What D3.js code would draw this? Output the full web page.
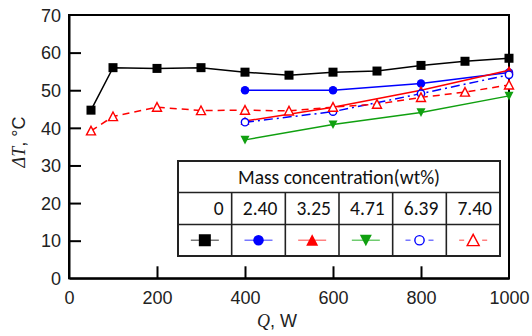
<!DOCTYPE html>
<html><head><meta charset="utf-8">
<script src="https://cdn.jsdelivr.net/npm/d3@7"></script>
<style>body{margin:0;background:#fff}svg{display:block}</style>
</head><body>
<script>
const xTicks=[0,200,400,600,800,1000];
const yTicks=[0,10,20,30,40,50,60,70];
const qFull=[50,100,200,300,400,500,600,700,800,900,1000];
const qPart=[400,600,800,1000];
const s0=[44.7,56.0,55.8,56.0,54.8,54.0,54.8,55.1,56.6,57.7,58.5];
const s240=[50.0,50.0,51.8,54.7];
const s325=[41.8,45.5,50.0,55.3];
const s471=[36.8,40.9,44.1,48.5];
const s639=[41.5,44.3,49.1,54.1];
const s740=[39.2,43.0,45.5,44.6,44.7,44.5,45.5,46.3,48.1,49.5,51.4];
const concLabels=["0","2.40","3.25","4.71","6.39","7.40"];
const legendTitle="Mass concentration(wt%)";

const W=532,H=336;
const svg=d3.select("body").append("svg").attr("width",W).attr("height",H);
const x=d3.scaleLinear().domain([0,1000]).range([69,509]);
const y=d3.scaleLinear().domain([0,70]).range([278.3,15]);

const series=[
 {q:qFull,v:s0,color:"#000",lcolor:"#777",marker:"square",fill:true,dash:null},
 {q:qPart,v:s240,color:"#0000ff",lcolor:"#7777ff",marker:"circle",fill:true,dash:null},
 {q:qPart,v:s325,color:"#ff0000",lcolor:"#ff8080",marker:"tri",fill:true,dash:null},
 {q:qPart,v:s471,color:"#10a010",lcolor:"#70cc70",marker:"tridown",fill:true,dash:null},
 {q:qPart,v:s639,color:"#0000ff",lcolor:"#7777ff",marker:"circle",fill:false,dash:"9,4,2,4"},
 {q:qFull,v:s740,color:"#ff0000",lcolor:"#ff8080",marker:"tri",fill:false,dash:"7,5"}
];

function drawMarker(g,type,cx,cy,size,color,fill){
  let el;
  if(type==="square"){
    el=g.append("rect").attr("x",cx-size/2).attr("y",cy-size/2).attr("width",size).attr("height",size);
  } else if(type==="circle"){
    el=g.append("circle").attr("cx",cx).attr("cy",cy).attr("r",size/2-(fill?0:0.6));
  } else {
    const h=size*0.9, w=size/2;
    const up=type==="tri";
    const pts=up?[[cx,cy-h/2-0.5],[cx+w,cy+h/2],[cx-w,cy+h/2]]:[[cx,cy+h/2+0.5],[cx+w,cy-h/2],[cx-w,cy-h/2]];
    el=g.append("path").attr("d","M"+pts.map(p=>p.join(",")).join("L")+"Z");
  }
  el.attr("fill",fill?color:"#fff").attr("stroke",color).attr("stroke-width",fill?0:1.4);
}

const frame=svg.append("g");
frame.append("rect").attr("x",x(0)).attr("y",y(70)).attr("width",x(1000)-x(0)).attr("height",y(0)-y(70))
 .attr("fill","none").attr("stroke","#000").attr("stroke-width",2);

const xAxis=d3.axisBottom(x).tickValues(xTicks).tickSizeInner(-12).tickSizeOuter(0).tickPadding(16).tickFormat(d3.format("d"));
const gx=svg.append("g").attr("transform",`translate(0,${y(0)})`).call(xAxis);
gx.select(".domain").attr("stroke-width",2);
gx.selectAll(".tick line").attr("stroke-width",2).attr("display",d=>(d===0||d===1000)?"none":null);
gx.selectAll(".tick text").attr("font-family","'Liberation Sans',Arial,sans-serif").attr("font-size",18).attr("fill","#222").attr("dy","0.71em").attr("y",13);

const yAxis=d3.axisLeft(y).tickValues(yTicks).tickSizeInner(-12).tickSizeOuter(0).tickPadding(8);
const gy=svg.append("g").attr("transform",`translate(${x(0)},0)`).call(yAxis);
gy.select(".domain").attr("stroke-width",2);
gy.selectAll(".tick line").attr("stroke-width",2).attr("display",d=>(d===0||d===70)?"none":null);
gy.selectAll(".tick text").attr("font-family","'Liberation Sans',Arial,sans-serif").attr("font-size",18).attr("fill","#222").attr("x",-8).attr("dy","0.35em");

const xt=svg.append("text").attr("x",257).attr("y",327).attr("font-size",18).attr("fill","#222").attr("font-family","'Liberation Sans',Arial,sans-serif");
xt.append("tspan").attr("font-family","'Liberation Serif','Times New Roman',serif").attr("font-style","italic").text("Q");
xt.append("tspan").text(", W");
const yt=svg.append("text").attr("transform","translate(25,142) rotate(-90)").attr("text-anchor","middle").attr("font-size",18).attr("fill","#222").attr("font-family","'Liberation Sans',Arial,sans-serif");
yt.append("tspan").attr("font-family","'Liberation Serif','Times New Roman',serif").attr("font-style","italic").text("ΔT");
yt.append("tspan").text(", °C");

const line=d3.line().x(d=>x(d[0])).y(d=>y(d[1]));
const plot=svg.append("g");
series.forEach(s=>{
  const data=s.q.map((q,i)=>[q,s.v[i]]);
  const g=plot.append("g");
  g.append("path").attr("d",line(data)).attr("fill","none").attr("stroke",s.color).attr("stroke-width",1.5)
   .attr("stroke-dasharray",s.dash);
  const sz=s.marker==="square"?9:(s.marker==="circle"?8.5:9);
  data.forEach(d=>drawMarker(g,s.marker,x(d[0]),y(d[1]),sz,s.color,s.fill));
});

const tx=178,tw=322,ty=161,rh=[31.5,32,31.5];
const cw=tw/6;
const tg=svg.append("g");
const th=rh[0]+rh[1]+rh[2];
tg.append("rect").attr("x",tx).attr("y",ty).attr("width",tw).attr("height",th).attr("fill","#fff").attr("stroke","#222").attr("stroke-width",2);
tg.append("line").attr("x1",tx).attr("x2",tx+tw).attr("y1",ty+rh[0]).attr("y2",ty+rh[0]).attr("stroke","#222").attr("stroke-width",1.6);
tg.append("line").attr("x1",tx).attr("x2",tx+tw).attr("y1",ty+rh[0]+rh[1]).attr("y2",ty+rh[0]+rh[1]).attr("stroke","#222").attr("stroke-width",1.6);
for(let i=1;i<6;i++){
  tg.append("line").attr("x1",tx+i*cw).attr("x2",tx+i*cw).attr("y1",ty+rh[0]).attr("y2",ty+th).attr("stroke","#222").attr("stroke-width",1.6);
}
const tfont="Carlito,Calibri,Lato,sans-serif";
tg.append("text").attr("x",tx+tw/2).attr("y",ty+rh[0]/2).attr("dy","0.35em").attr("text-anchor","middle")
  .attr("font-family",tfont).attr("font-size",19.5).attr("fill","#111").text(legendTitle);
concLabels.forEach((c,i)=>{
  tg.append("text").attr("x",tx+(i+1)*cw-8).attr("y",ty+rh[0]+rh[1]/2).attr("dy","0.35em").attr("text-anchor","end")
   .attr("font-family",tfont).attr("font-size",19.5).attr("fill","#111").text(c);
  const s=series[i];
  const cx=tx+i*cw+cw/2, cy=ty+rh[0]+rh[1]+rh[2]/2;
  tg.append("line").attr("x1",cx-14).attr("x2",cx+14).attr("y1",cy).attr("y2",cy).attr("stroke",s.lcolor).attr("stroke-width",1.5)
    .attr("stroke-dasharray",s.dash?"5,18,5":null);
  const sz=s.marker==="square"?12:(s.marker==="circle"?10.5:12);
  drawMarker(tg,s.marker,cx,cy,sz,s.color,s.fill);
});
</script>
</body></html>
